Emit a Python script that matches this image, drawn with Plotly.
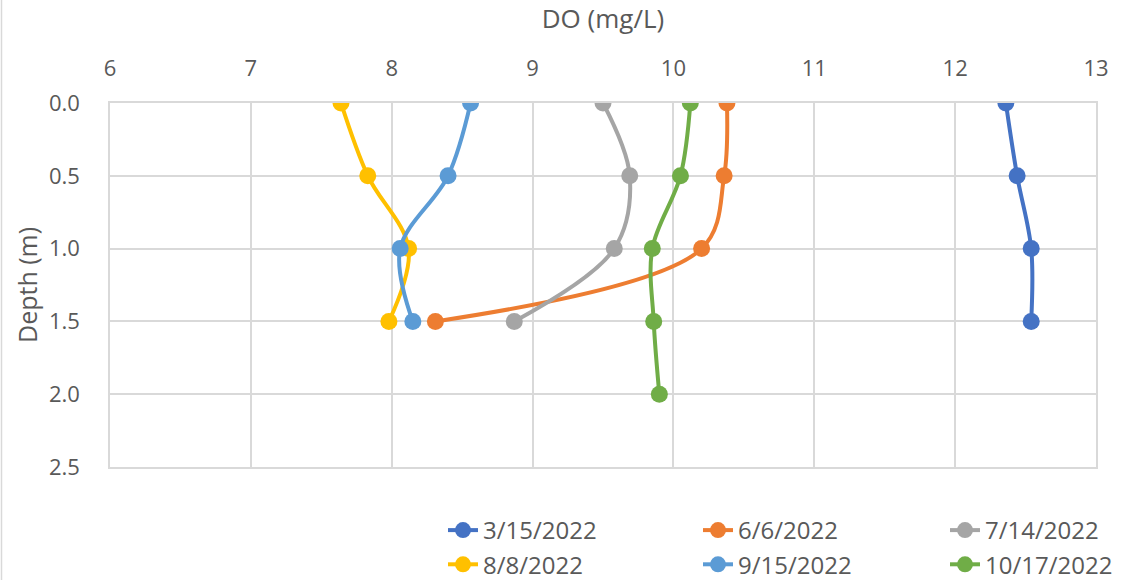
import plotly.graph_objects as go

depth_a = [0.0, 0.5, 1.0, 1.5]
depth_b = [0.0, 0.5, 1.0, 1.5, 2.0]

do_0315 = [12.36, 12.44, 12.54, 12.54]
do_0606 = [10.38, 10.36, 10.20, 8.31]
do_0714 = [9.50, 9.69, 9.58, 8.87]
do_0808 = [7.64, 7.83, 8.12, 7.98]
do_0915 = [8.56, 8.40, 8.06, 8.15]
do_1017 = [10.12, 10.05, 9.85, 9.86, 9.90]

# (label, depths, DO values, colour, legend column)
series = [
    ("3/15/2022", depth_a, do_0315, "#4472C4", "legend"),
    ("6/6/2022", depth_a, do_0606, "#ED7D31", "legend2"),
    ("7/14/2022", depth_a, do_0714, "#A5A5A5", "legend3"),
    ("8/8/2022", depth_a, do_0808, "#FFC000", "legend"),
    ("9/15/2022", depth_a, do_0915, "#5B9BD5", "legend2"),
    ("10/17/2022", depth_b, do_1017, "#70AD47", "legend3"),
]

x_ticks = [6, 7, 8, 9, 10, 11, 12, 13]
y_ticks = [0.0, 0.5, 1.0, 1.5, 2.0, 2.5]

font_family = "Open Sans, Segoe UI, Liberation Sans, sans-serif"
text_col = "#595959"
grid_col = "#D9D9D9"
W, H = 1136, 580
L, R, T, B = 110, 40, 103, 113
PW, PH = W - L - R, H - T - B

fig = go.Figure()
for name, depth, do, col, leg in series:
    fig.add_trace(go.Scatter(
        x=do, y=depth, name=name, mode="lines+markers", legend=leg,
        line=dict(color=col, width=4, shape="spline", smoothing=1),
        marker=dict(color=col, size=17),
    ))


def legend_box(left_px):
    return dict(
        orientation="v", xref="container", yref="container",
        x=left_px / W, xanchor="left", y=1 - 508 / H, yanchor="top",
        font=dict(size=24, color=text_col, family=font_family),
        tracegroupgap=0, bgcolor="rgba(0,0,0,0)",
    )


fig.update_layout(
    width=W, height=H,
    margin=dict(l=L, r=R, t=T, b=B, autoexpand=False),
    paper_bgcolor="white", plot_bgcolor="white",
    font=dict(family=font_family, color=text_col, size=22),
    showlegend=True,
    legend=legend_box(443),
    legend2=legend_box(698),
    legend3=legend_box(945),
    xaxis=dict(
        side="top", range=[6, 13], tickvals=x_ticks,
        showgrid=True, gridcolor=grid_col, gridwidth=1.5,
        zeroline=False, showline=True, linecolor=grid_col, linewidth=1.5, mirror=True,
        ticks="outside", ticklen=16, tickcolor="rgba(0,0,0,0)",
        tickfont=dict(size=22, color=text_col),
        title=dict(text="DO (mg/L)", font=dict(size=26, color=text_col), standoff=17),
    ),
    yaxis=dict(
        range=[2.5, 0], tickvals=y_ticks, ticktext=[f"{v:.1f}" for v in y_ticks],
        showgrid=True, gridcolor=grid_col, gridwidth=1.5,
        zeroline=False, showline=True, linecolor=grid_col, linewidth=1.5, mirror=True,
        ticks="outside", ticklen=24, tickcolor="rgba(0,0,0,0)",
        tickfont=dict(size=22, color=text_col),
    ),
    annotations=[dict(
        text="Depth (m)", textangle=-90, showarrow=False,
        xref="paper", yref="paper", x=(27 - L) / PW, y=0.5,
        xanchor="center", yanchor="middle",
        font=dict(size=25, color=text_col, family=font_family),
    )],
)

# thin frame line along the left edge of the chart area
fig.add_shape(type="line", xref="paper", yref="paper",
              x0=-(L - 1.5) / PW, x1=-(L - 1.5) / PW, y0=-B / PH, y1=1 + T / PH,
              line=dict(color=grid_col, width=1.5))

fig.write_html("out.html")
